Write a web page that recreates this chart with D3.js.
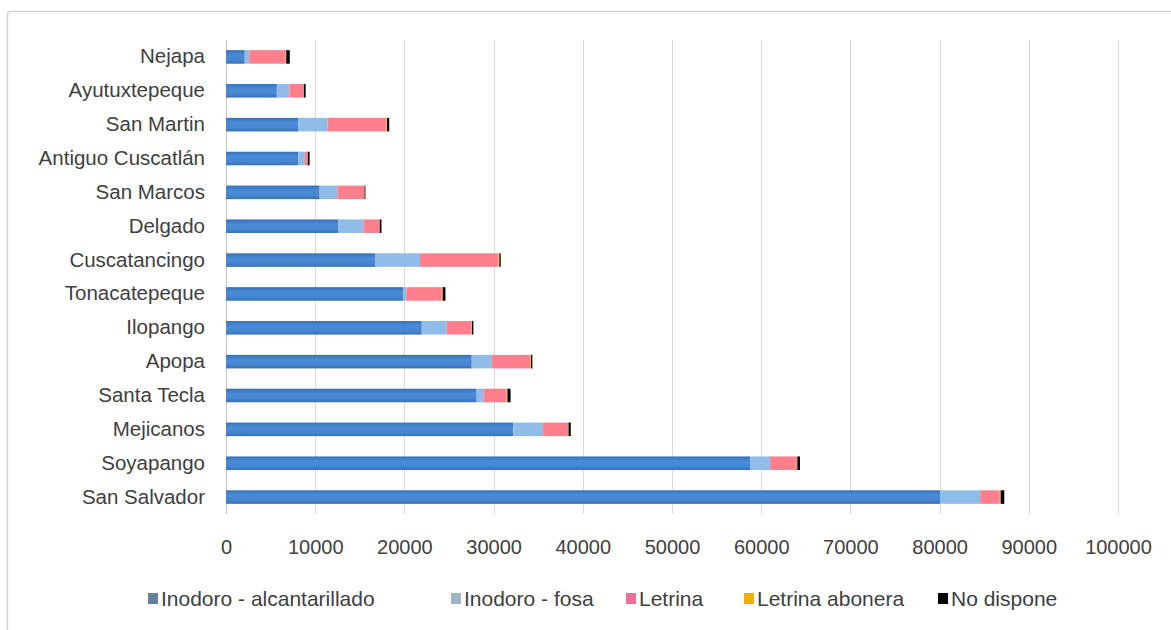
<!DOCTYPE html>
<html>
<head>
<meta charset="utf-8">
<script src="https://cdn.jsdelivr.net/npm/d3@7"></script>
<style>
  html, body { margin: 0; padding: 0; background: #ffffff; }
  svg { display: block; }
  text { font-family: "Liberation Sans", Arial, sans-serif; fill: #404040; }
</style>
</head>
<body>
<svg id="chart" width="1171" height="630"></svg>
<script>
// Municipios, listed top to bottom
const municipios = [
  "Nejapa", "Ayutuxtepeque", "San Martin", "Antiguo Cuscatlán", "San Marcos",
  "Delgado", "Cuscatancingo", "Tonacatepeque", "Ilopango", "Apopa",
  "Santa Tecla", "Mejicanos", "Soyapango", "San Salvador"
];

// Households by type of sanitary service
const inodoroAlcantarillado = [2100, 5700, 8100, 8100, 10500, 12600, 16700, 19850, 21950, 27550, 28100, 32200, 58750, 80050];
const inodoroFosa           = [500, 1400, 3300, 750, 2000, 2800, 5050, 350, 2800, 2250, 750, 3350, 2250, 4500];
const letrina               = [4100, 1600, 6600, 300, 3000, 1800, 8800, 4000, 2800, 4300, 2600, 2800, 3000, 2200];
const letrinaAbonera        = [50, 30, 50, 20, 30, 30, 100, 100, 30, 100, 100, 50, 50, 100];
const noDispone             = [400, 200, 250, 200, 100, 200, 150, 300, 150, 150, 350, 250, 300, 400];

const seriesNames = ["Inodoro - alcantarillado", "Inodoro - fosa", "Letrina", "Letrina abonera", "No dispone"];
const xTicks = [0, 10000, 20000, 30000, 40000, 50000, 60000, 70000, 80000, 90000, 100000];

const barColors    = ["#4686d0", "#8fbce8", "#ff7f8c", "#f2b705", "#000000"];
const legendColors = ["#64809f", "#a3b5c4", "#ee6f95", "#f0b000", "#000000"];

const seriesValues = [inodoroAlcantarillado, inodoroFosa, letrina, letrinaAbonera, noDispone];
const rows = municipios.map((m, i) => {
  const r = { municipio: m };
  seriesNames.forEach((s, k) => { r[s] = seriesValues[k][i]; });
  return r;
});

const svg = d3.select("#chart");

// chart frame
svg.append("rect")
  .attr("x", 7.5).attr("y", 11.5)
  .attr("width", 1172).attr("height", 630)
  .attr("rx", 3)
  .attr("fill", "#ffffff")
  .attr("stroke", "#d4d4d4")
  .attr("stroke-width", 1.5);

const x = d3.scaleLinear().domain([0, 100000]).range([226, 1118]);
const y = d3.scaleBand().domain(municipios).range([40, 514])
  .paddingInner(0.6).paddingOuter(0.3);

// vertical gridlines
svg.append("g")
  .selectAll("line")
  .data(xTicks.filter(t => t > 0))
  .join("line")
  .attr("x1", d => Math.round(x(d)) + 0.5)
  .attr("x2", d => Math.round(x(d)) + 0.5)
  .attr("y1", 40).attr("y2", 514)
  .attr("stroke", "#d9d9d9").attr("stroke-width", 1);

// category axis line
svg.append("line")
  .attr("x1", Math.round(x(0)) + 0.5).attr("x2", Math.round(x(0)) + 0.5)
  .attr("y1", 40).attr("y2", 514)
  .attr("stroke", "#c8c8c8");

// gradient for the sewer series, a light highlight along the bar
const defs = svg.append("defs");
const grad = defs.append("linearGradient").attr("id", "gAlc")
  .attr("x1", 0).attr("y1", 0).attr("x2", 0).attr("y2", 1);
grad.append("stop").attr("offset", "0%").attr("stop-color", "#3671bb");
grad.append("stop").attr("offset", "35%").attr("stop-color", "#4a8bd5");
grad.append("stop").attr("offset", "75%").attr("stop-color", "#4686d0");
grad.append("stop").attr("offset", "100%").attr("stop-color", "#366fb6");

const stack = d3.stack().keys(seriesNames);
const stacked = stack(rows);

svg.append("g")
  .selectAll("g")
  .data(stacked)
  .join("g")
  .attr("fill", (d, i) => i === 0 ? "url(#gAlc)" : barColors[i])
  .selectAll("rect")
  .data(d => d)
  .join("rect")
  .attr("x", d => x(d[0]))
  .attr("y", d => y(d.data.municipio))
  .attr("width", d => Math.max(0, x(d[1]) - x(d[0])))
  .attr("height", y.bandwidth());

// category labels
const yAxis = d3.axisLeft(y).tickSize(0).tickPadding(0);
const yg = svg.append("g").attr("transform", "translate(205,0)").call(yAxis);
yg.select(".domain").remove();
yg.selectAll("text")
  .attr("font-family", "Liberation Sans, Arial, sans-serif")
  .attr("font-size", 20.5)
  .attr("fill", "#404040");

// value axis labels
const xAxis = d3.axisBottom(x).tickValues(xTicks).tickSize(0).tickPadding(0)
  .tickFormat(d3.format("d"));
const xg = svg.append("g").attr("transform", "translate(0,540)").call(xAxis);
xg.select(".domain").remove();
xg.selectAll("text")
  .attr("font-family", "Liberation Sans, Arial, sans-serif")
  .attr("font-size", 20)
  .attr("fill", "#404040");

// legend
const legendX = [148, 451, 626, 744, 938];
const legend = svg.append("g").attr("transform", "translate(0,599)");
seriesNames.forEach((s, i) => {
  const g = legend.append("g").attr("transform", `translate(${legendX[i]},0)`);
  g.append("rect").attr("x", 0).attr("y", -6).attr("width", 10).attr("height", 11)
    .attr("fill", legendColors[i]);
  g.append("text").attr("x", 13).attr("y", 0).attr("dy", "0.35em")
    .attr("font-size", 21).attr("fill", "#404040").text(s);
});
</script>
</body>
</html>
